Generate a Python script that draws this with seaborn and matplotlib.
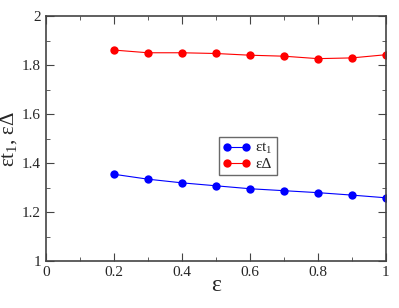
import numpy as np
import pandas as pd
import matplotlib
matplotlib.use("Agg")
import matplotlib.pyplot as plt
import seaborn as sns
from matplotlib.ticker import MultipleLocator

eps = [0.2, 0.3, 0.4, 0.5, 0.6, 0.7, 0.8, 0.9, 1.0]
eps_t1 = [1.354, 1.334, 1.319, 1.307, 1.295, 1.287, 1.279, 1.269, 1.258]
eps_delta = [1.861, 1.850, 1.850, 1.847, 1.840, 1.836, 1.826, 1.829, 1.842]
labels = ["εt$_1$", "εΔ"]
xticks = [0, 0.2, 0.4, 0.6, 0.8, 1.0]
xtick_labels = ["0", "0.2", "0.4", "0.6", "0.8", "1"]
yticks = [1.0, 1.2, 1.4, 1.6, 1.8, 2.0]
ytick_labels = ["1", "1.2", "1.4", "1.6", "1.8", "2"]

df = pd.concat([
    pd.DataFrame({"eps": eps, "val": eps_t1, "series": labels[0]}),
    pd.DataFrame({"eps": eps, "val": eps_delta, "series": labels[1]}),
], ignore_index=True)

sns.set_style("ticks")
plt.rcParams["font.family"] = ["Liberation Serif", "DejaVu Serif"]
plt.rcParams["mathtext.fontset"] = "custom"
plt.rcParams["mathtext.rm"] = "Liberation Serif"
plt.rcParams["mathtext.it"] = "Liberation Serif"

fig = plt.figure(figsize=(3.99, 3.08), dpi=100)
ax = fig.add_axes([0.1153, 0.1526, 0.8517, 0.7954])

sns.lineplot(data=df, x="eps", y="val", hue="series",
             palette={labels[0]: "#0000ff", labels[1]: "#ff0000"},
             marker="o", markersize=6, markeredgewidth=0, linewidth=0.8,
             ax=ax)

ax.set_xlim(0, 1)
ax.set_ylim(1, 2)
ax.set_xticks(xticks, xtick_labels)
ax.set_yticks(yticks, ytick_labels)
ax.xaxis.set_minor_locator(MultipleLocator(0.1))
ax.yaxis.set_minor_locator(MultipleLocator(0.1))
ax.tick_params(which="both", direction="in", top=True, right=True,
               labelsize=11, color="#444444")
ax.tick_params(which="major", length=6)
ax.tick_params(which="minor", length=3)
for s in ax.spines.values():
    s.set_color("#444444")
    s.set_linewidth(1.2)

ax.set_xlabel("ε", fontsize=17, labelpad=-3)
ax.set_ylabel("εt$_1$, εΔ", fontsize=15, labelpad=2)

leg = ax.legend(loc="upper left", bbox_to_anchor=(0.508, 0.505),
                numpoints=2, fancybox=False, frameon=True, fontsize=11,
                handlelength=1.85, handletextpad=0.3, borderpad=0.25,
                labelspacing=0.1, borderaxespad=0)
leg.get_frame().set_edgecolor("#444444")
leg.get_frame().set_linewidth(1.0)
for h in leg.get_lines():
    h.set_marker("o")
    h.set_markevery(None)

fig.savefig("out.png", dpi=100)
